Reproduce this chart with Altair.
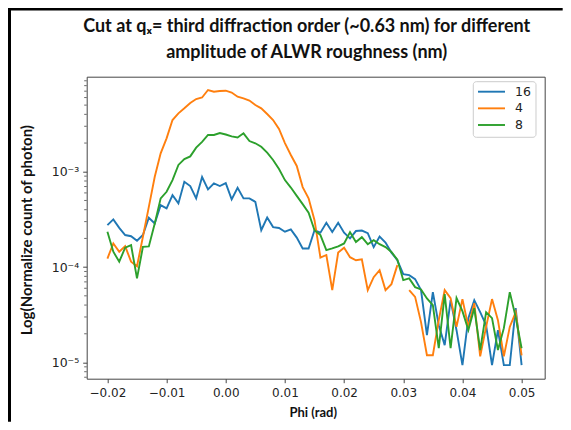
import altair as alt
import pandas as pd

# ---------------- data ----------------
series_names = ["16", "4", "8"]
series_colors = ["#1f77b4", "#ff7f0e", "#2ca02c"]

phi = [-0.020, -0.019, -0.018, -0.017, -0.016, -0.015, -0.014, -0.013, -0.012, -0.011,
       -0.010, -0.009, -0.008, -0.007, -0.006, -0.005, -0.004, -0.003, -0.002, -0.001,
       0.000, 0.001, 0.002, 0.003, 0.004, 0.005, 0.006, 0.007, 0.008, 0.009,
       0.010, 0.011, 0.012, 0.013, 0.014, 0.015, 0.016, 0.017, 0.018, 0.019,
       0.020, 0.021, 0.022, 0.023, 0.024, 0.025, 0.026, 0.027, 0.028, 0.029,
       0.030, 0.031, 0.032, 0.033, 0.034, 0.035, 0.036, 0.037, 0.038, 0.039,
       0.040, 0.041, 0.042, 0.043, 0.044, 0.045, 0.046, 0.047, 0.048, 0.049, 0.050]

series16 = [2.76e-4, 3.17e-4, 2.58e-4, 2.17e-4, 2.11e-4, 1.89e-4, 2.17e-4, 3.29e-4, 2.87e-4, 4.47e-4,
            4.13e-4, 5.69e-4, 4.66e-4, 7.85e-4, 7.08e-4, 5.26e-4, 8.80e-4, 6.54e-4, 7.56e-4, 7.08e-4,
            7.61e-4, 5.13e-4, 6.78e-4, 5.26e-4, 5.26e-4, 4.84e-4, 2.44e-4, 3.31e-4, 2.63e-4, 2.57e-4,
            2.35e-4, 2.49e-4, 2.04e-4, 1.57e-4, 1.57e-4, 2.44e-4, 2.30e-4, 2.92e-4, 2.33e-4, 2.92e-4,
            2.30e-4, 2.00e-4, 2.39e-4, 2.42e-4, 2.27e-4, 1.62e-4, 2.09e-4, 1.81e-4, 1.42e-4, 1.18e-4,
            8.44e-5, 8.24e-5, 7.48e-5, 5.74e-5, 1.93e-5, 5.47e-5, 2.46e-5, 1.52e-5, 4.50e-5, 2.18e-5,
            9.37e-6, 2.92e-5, 4.50e-5, 3.37e-5, 2.46e-5, 9.37e-6, 2.18e-5, 9.37e-6, 9.37e-6, 3.71e-5, 9.37e-6]

series4 = [1.23e-4, 1.77e-4, 1.45e-4, 1.66e-4, 1.14e-4, 1.02e-4, 2.08e-4, 4.29e-4, 8.86e-4, 1.56e-3,
           2.24e-3, 3.49e-3, 4.10e-3, 4.63e-3, 5.26e-3, 5.79e-3, 6.01e-3, 7.20e-3, 6.91e-3, 7.03e-3,
           7.08e-3, 6.78e-3, 6.12e-3, 5.89e-3, 5.59e-3, 5.01e-3, 4.63e-3, 4.03e-3, 3.49e-3, 2.81e-3,
           2.00e-3, 1.50e-3, 1.15e-3, 6.91e-4, 5.26e-4, 3.11e-4, 1.26e-4, 1.34e-4, 5.74e-5, 1.42e-4,
           1.60e-4, 1.27e-4, 1.18e-4, 1.21e-4, 5.74e-5, 7.85e-5, 9.30e-5, 5.74e-5, 6.63e-5, 1.05e-4,
           None, 5.74e-5, 4.88e-5, 2.65e-5, 1.19e-5, 1.19e-5, 2.78e-5, 5.74e-5, 4.73e-5, 2.36e-5,
           4.62e-5, 2.36e-5, 4.19e-5, 1.16e-5, 2.36e-5, 4.62e-5, 2.78e-5, 1.16e-5, 2.36e-5, 3.37e-5, 1.19e-5]

series8 = [2.35e-4, 1.45e-4, 1.14e-4, 1.60e-4, 1.70e-4, 7.61e-5, 1.63e-4, 1.65e-4, 2.87e-4, 5.26e-4,
           6.17e-4, 8.18e-4, 1.18e-3, 1.36e-3, 1.45e-3, 1.79e-3, 2.06e-3, 2.43e-3, 2.43e-3, 2.55e-3,
           2.46e-3, 2.35e-3, 2.29e-3, 2.53e-3, 2.10e-3, 1.99e-3, 1.83e-3, 1.59e-3, 1.33e-3, 1.07e-3,
           8.18e-4, 6.83e-4, 5.59e-4, 4.58e-4, 3.73e-4, 2.44e-4, 2.17e-4, 1.51e-4, 1.57e-4, 1.65e-4,
           1.77e-4, 2.33e-4, 1.83e-4, 2.06e-4, 1.74e-4, 1.92e-4, 1.74e-4, 1.62e-4, 1.44e-4, 1.20e-4,
           7.30e-5, 7.61e-5, 6.17e-5, 5.83e-5, 4.69e-5, 3.99e-5, 1.41e-5, 5.21e-5, 1.41e-5, 4.73e-5,
           3.45e-5, 2.18e-5, 3.71e-5, 1.35e-5, 3.37e-5, 2.92e-5, 1.35e-5, 2.29e-5, 5.47e-5, 2.99e-5, 1.41e-5]

x_ticks = [-0.02, -0.01, 0.0, 0.01, 0.02, 0.03, 0.04, 0.05]
y_ticks = [1e-5, 1e-4, 1e-3]
x_domain = [-0.0235, 0.0539]
y_domain = [6.76e-6, 9.93e-3]
minor_ticks = [k * 10.0 ** e for e in (-6, -5, -4, -3) for k in range(2, 10)
               if y_domain[0] <= k * 10.0 ** e <= y_domain[1]]

title_lines = ["Cut at q\u2093= third diffraction order (~0.63 nm) for different",
               "amplitude of ALWR roughness (nm)"]
x_title = "Phi (rad)"
y_title = "Log(Normalize count of photon)"

# ---------------- build table ----------------
rows = []
for name, vals in zip(series_names, (series16, series4, series8)):
    seg = 0
    for p, v in zip(phi, vals):
        if v is None:
            seg += 1
            continue
        rows.append({"phi": p, "value": v, "series": name, "seg": f"{name}-{seg}"})
df = pd.DataFrame(rows)
minor_df = pd.DataFrame({"value": minor_ticks})
dummy = pd.DataFrame({"a": [0]})

W, H = 458, 302
PAD = {"left": 78.7, "top": 68.7, "right": 18, "bottom": 43}

color_scale = alt.Scale(domain=series_names, range=series_colors)

x_enc = alt.X(
    "phi:Q",
    scale=alt.Scale(domain=x_domain, nice=False, zero=False),
    axis=alt.Axis(
        values=x_ticks,
        labelExpr="replace(format(datum.value, '.2f'), '-', '\u2212')",
        title=x_title, titleX=226, titleY=34, titleBaseline="middle",
        titleFont="Lato", titleFontWeight="bold", titleFontSize=13, titleColor="#111",
        labelFont="DejaVu Sans", labelFontSize=12, labelColor="#222", labelPadding=5,
        tickSize=4, tickColor="#444", domain=False, grid=False,
    ),
)
y_enc = alt.Y(
    "value:Q",
    scale=alt.Scale(type="log", domain=y_domain, nice=False),
    axis=alt.Axis(
        values=y_ticks,
        labelExpr="round(log(datum.value)/LN10) == -3 ? '10\u207b\u00b3' : "
                  "(round(log(datum.value)/LN10) == -4 ? '10\u207b\u2074' : '10\u207b\u2075')",
        title=y_title, titleX=-60, titleY=153, titleAngle=270, titleAlign="center",
        titleBaseline="middle",
        titleFont="Lato", titleFontWeight="bold", titleFontSize=15, titleColor="#111",
        labelFont="DejaVu Sans", labelFontSize=12.5, labelColor="#222", labelPadding=4,
        tickSize=4, tickColor="#444", domain=False, grid=False,
    ),
)

lines = alt.Chart(df).mark_line(strokeWidth=1.9, clip=True).encode(
    x=x_enc, y=y_enc,
    color=alt.Color("series:N", scale=color_scale, legend=None),
    detail="seg:N",
)

minor = alt.Chart(minor_df).mark_rule(color="#444", strokeWidth=0.8).encode(
    y=y_enc, x=alt.value(-2.5), x2=alt.value(0)
)

border_left = alt.Chart(dummy).mark_rule(color="black", strokeWidth=3).encode(
    x=alt.value(-PAD["left"] + 1.5), y=alt.value(-PAD["top"]), y2=alt.value(H + PAD["bottom"])
)
border_top = alt.Chart(dummy).mark_rule(color="black", strokeWidth=3).encode(
    x=alt.value(-PAD["left"]), x2=alt.value(W + PAD["right"]), y=alt.value(-PAD["top"] + 1)
)

legend_box = alt.Chart(dummy).mark_rect(
    fill="white", fillOpacity=0.8, stroke="#cccccc", strokeWidth=1, cornerRadius=3
).encode(x=alt.value(386.6), x2=alt.value(449.3), y=alt.value(5), y2=alt.value(60.6))

legend_layers = []
for k, name in enumerate(series_names):
    yk = 15 + k * 16.65
    ldf = pd.DataFrame({"series": [name]})
    legend_layers.append(
        alt.Chart(ldf).mark_rule(strokeWidth=1.9).encode(
            x=alt.value(391.3), x2=alt.value(418.3), y=alt.value(yk),
            color=alt.Color("series:N", scale=color_scale, legend=None),
        )
    )
    legend_layers.append(
        alt.Chart(ldf).mark_text(align="left", baseline="middle", font="DejaVu Sans",
                                 fontSize=12.5, color="#222").encode(
            x=alt.value(428.3), y=alt.value(yk), text="series:N"
        )
    )

# chart title drawn as text marks (two centred lines)
title_layers = []
for k, line in enumerate(title_lines):
    tdf = pd.DataFrame({"t": [line]})
    title_layers.append(
        alt.Chart(tdf).mark_text(align="center", baseline="middle", font="Lato",
                                 fontSize=18, fontWeight="bold", color="#111").encode(
            x=alt.value(220), y=alt.value(-49.5 + k * 25.5), text="t:N"
        )
    )

chart = alt.layer(
    lines, minor, legend_box, *legend_layers, *title_layers, border_left, border_top
).properties(
    width=W, height=H,
    autosize=alt.AutoSizeParams(type="none"),
    padding=PAD,
    background="white",
).configure_view(stroke="#444", strokeWidth=1)

chart.save("out.html", embed_options={"renderer": "svg", "actions": False})
